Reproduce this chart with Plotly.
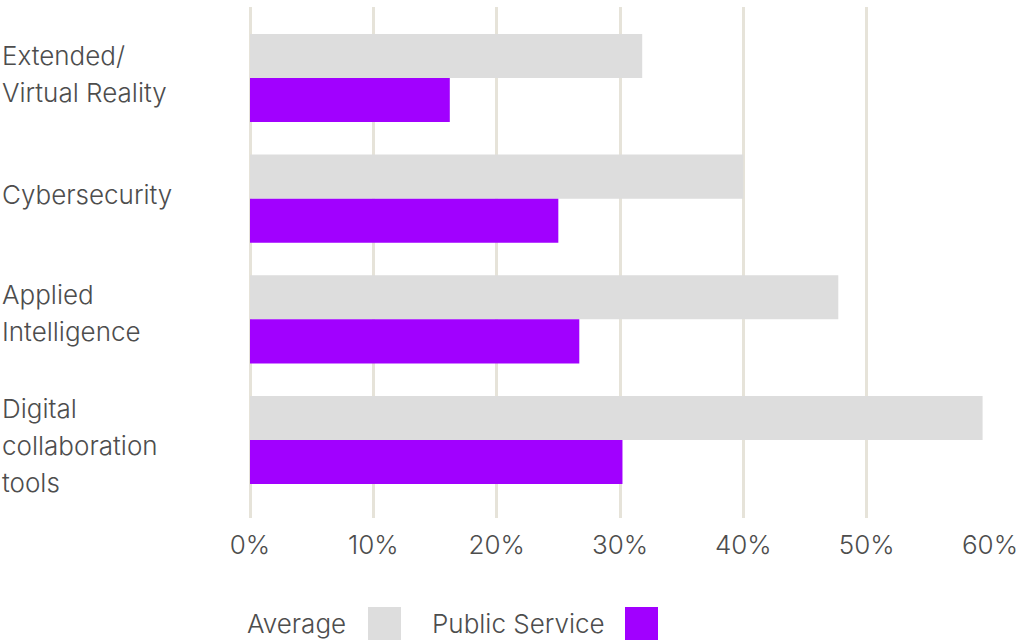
import plotly.graph_objects as go

categories = ["Extended/<br>Virtual Reality", "Cybersecurity", "Applied<br>Intelligence",
              "Digital<br>collaboration<br>tools"]
average = [31.8, 40.0, 47.7, 59.4]
public_service = [16.2, 25.0, 26.7, 30.2]
x_ticks = [0, 10, 20, 30, 40, 50, 60]
x_tick_labels = ["0%", "10%", "20%", "30%", "40%", "50%", "60%"]
series_names = ["Average", "Public Service"]
colors = ["#dddddd", "#a100ff"]

W, H = 1025, 641
L, R, T, B = 250, 35, 7, 123
PW, PH = W - L - R, H - T - B
FONT = "Inter"
FW = 300
FS = 26
TXT = "#4d4d4d"
LABEL_SHIFT = [3.8, 3.7, 6.2, -5.3]  # vertical nudge of each category label (px)


def px_x(px):
    return (px - L) / PW


def px_y(py):
    return (H - B - py) / PH


fig = go.Figure()
for name, vals, col in zip(series_names, [average, public_service], colors):
    fig.add_trace(go.Bar(
        y=list(range(len(categories))), x=vals, name=name, orientation="h",
        marker=dict(color=col, line=dict(width=0)), showlegend=False,
        hoverinfo="x+name",
    ))

annotations = []
for i, lab in enumerate(categories):
    lines = lab.split("<br>")
    n = len(lines)
    for k, ln in enumerate(lines):
        annotations.append(dict(
            x=0, xref="paper", y=i, yref="y", text=ln, showarrow=False,
            xanchor="left", yanchor="middle", xshift=-L,
            yshift=LABEL_SHIFT[i] + (n - 1) / 2 * 37 - k * 37,
            font=dict(family=FONT, size=FS, color=TXT, weight=FW),
        ))

# legend (text, then swatch)
legend_items = [(series_names[0], 245, 368, colors[0]), (series_names[1], 430, 625, colors[1])]
shapes = []
for name, tx, sx, col in legend_items:
    annotations.append(dict(
        x=px_x(tx), xref="paper", y=px_y(624), yref="paper", text=name, showarrow=False,
        xanchor="left", yanchor="middle",
        font=dict(family=FONT, size=FS, color=TXT, weight=FW),
    ))
    shapes.append(dict(type="rect", xref="paper", yref="paper",
                       x0=px_x(sx), x1=px_x(sx + 33), y0=px_y(640), y1=px_y(607),
                       fillcolor=col, line=dict(width=0)))

fig.update_layout(
    width=W, height=H, margin=dict(l=L, r=R, t=T, b=B),
    paper_bgcolor="white", plot_bgcolor="white",
    barmode="group", bargap=0.27, bargroupgap=0,
    font=dict(family=FONT, size=FS, color=TXT, weight=FW),
    xaxis=dict(range=[0, 60], tickvals=x_ticks, ticktext=x_tick_labels,
               showgrid=True, gridcolor="#e6e3d9", gridwidth=2.5,
               zeroline=True, zerolinecolor="#e6e3d9", zerolinewidth=2.5,
               showline=False, ticks="", ticklabelstandoff=9,
               tickfont=dict(family=FONT, size=FS, color=TXT, weight=FW),
               fixedrange=True),
    yaxis=dict(range=[3.646, -0.588], showticklabels=False, showgrid=False,
               zeroline=False, showline=False, ticks="", fixedrange=True),
    annotations=annotations, shapes=shapes,
)

fig.write_html("out.html")
